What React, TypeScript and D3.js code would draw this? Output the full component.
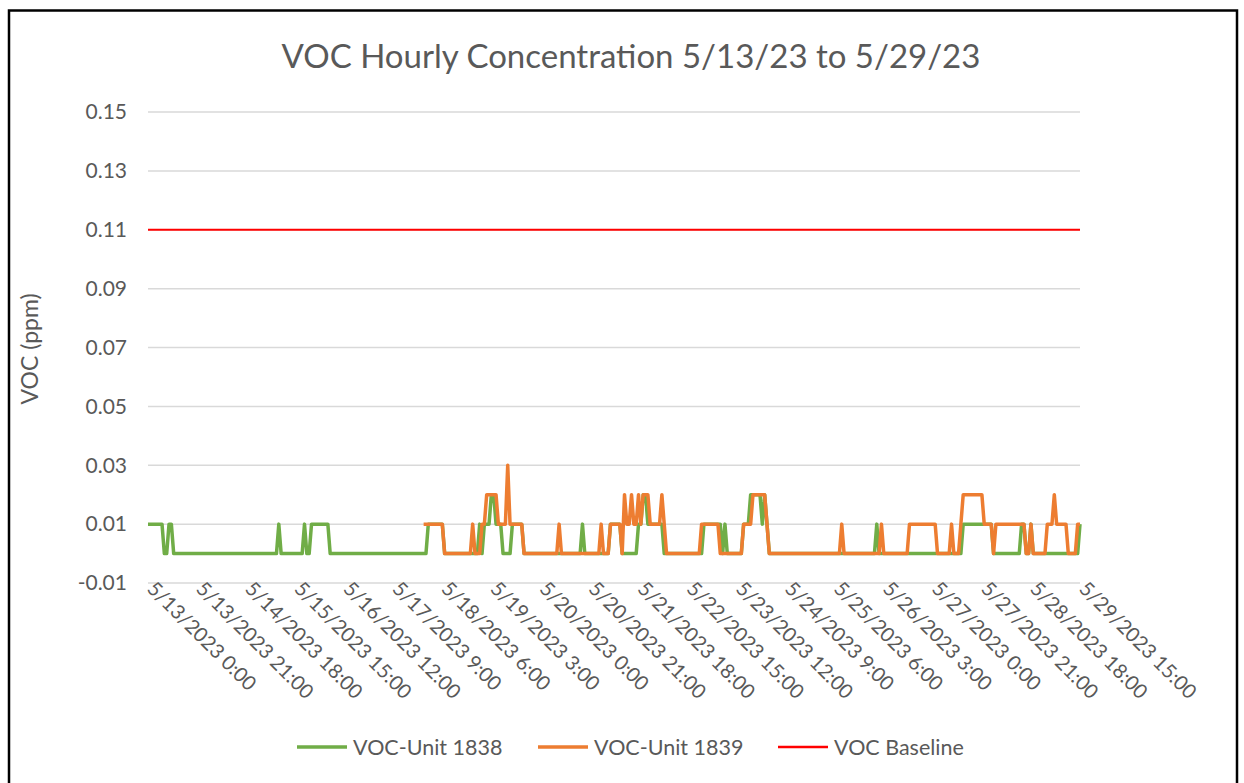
import React, { useRef, useEffect } from "react";
import * as d3 from "d3";

// hourly readings, stored as runs of [value, hours]
const unit1838Runs: [number, number][] = [
  [0.01, 7], [0, 2], [0.01, 2], [0, 45], [0.01, 1], [0, 10], [0.01, 1], [0, 2],
  [0.01, 8], [0, 42], [0.01, 7], [0, 15], [0.01, 1], [0, 1], [0.01, 3], [0.02, 2],
  [0.01, 3], [0, 4], [0.01, 5], [0, 25], [0.01, 1], [0, 11], [0.01, 5], [0, 7],
  [0.01, 2], [0.02, 2], [0.01, 7], [0, 17], [0.01, 8], [0, 1], [0.01, 1], [0, 7],
  [0.01, 3], [0.02, 5], [0.01, 1], [0.02, 1], [0.01, 1], [0, 46], [0.01, 1], [0, 36],
  [0.01, 13], [0, 12], [0.01, 2], [0, 2], [0.01, 1], [0, 20], [0.01, 1],
];

const unit1839Runs: [number | null, number][] = [
  [null, 118], [0.01, 9], [0, 12], [0.01, 1], [0, 3], [0.01, 2], [0.02, 5], [0.01, 4],
  [0.03, 1], [0.01, 6], [0, 15], [0.01, 1], [0, 17], [0.01, 1], [0, 3], [0.01, 5],
  [0, 1], [0.02, 1], [0.01, 2], [0.02, 1], [0.01, 2], [0.02, 1], [0.01, 1], [0.02, 3],
  [0.01, 5], [0.02, 1], [0.01, 1], [0, 15], [0.01, 8], [0, 10], [0.01, 4], [0.02, 6],
  [0.01, 1], [0, 31], [0.01, 1], [0, 16], [0.01, 1], [0, 11], [0.01, 12], [0, 6],
  [0.01, 1], [0, 3], [0.01, 1], [0.02, 9], [0.01, 4], [0, 1], [0.01, 13], [0, 2],
  [0.01, 1], [0, 6], [0.01, 3], [0.02, 1], [0.01, 5], [0, 4], [0.01, 2],
];

const baselineValue = 0.11;

const xTickLabels = [
  "5/13/2023 0:00", "5/13/2023 21:00", "5/14/2023 18:00", "5/15/2023 15:00",
  "5/16/2023 12:00", "5/17/2023 9:00", "5/18/2023 6:00", "5/19/2023 3:00",
  "5/20/2023 0:00", "5/20/2023 21:00", "5/21/2023 18:00", "5/22/2023 15:00",
  "5/23/2023 12:00", "5/24/2023 9:00", "5/25/2023 6:00", "5/26/2023 3:00",
  "5/27/2023 0:00", "5/27/2023 21:00", "5/28/2023 18:00", "5/29/2023 15:00",
];

const yTicks = [-0.01, 0.01, 0.03, 0.05, 0.07, 0.09, 0.11, 0.13, 0.15];

const seriesNames = ["VOC-Unit 1838", "VOC-Unit 1839", "VOC Baseline"];
const seriesColors = ["#70AD47", "#ED7D31", "#FF0000"];

const expand = (runs: [number | null, number][]) =>
  runs.flatMap(([v, n]) => Array(n).fill(v));

const fmtHour = d3.timeFormat("%-m/%-d/%Y %-H:%M");
const categories = d3
  .timeHours(new Date(2023, 4, 13, 0), new Date(2023, 4, 29, 16))
  .map(fmtHour);

const FONT = "Lato, 'Open Sans', sans-serif";
const TEXT = "#595959";

const App = () => {
  const svgRef = useRef<SVGSVGElement>(null);

  useEffect(() => {
    document.body.style.margin = "0";
    document.body.style.overflow = "hidden";

    const w = 1244;
    const h = 783;
    const plot = { left: 148, right: 1080, top: 112, bottom: 583 };

    const svg = d3
      .select(svgRef.current)
      .attr("width", w)
      .attr("height", h)
      .style("background", "#fff")
      .style("display", "block");

    svg.selectAll("*").remove();

    // outer frame (bottom edge runs off the page)
    svg
      .append("rect")
      .attr("x", 9)
      .attr("y", 10.5)
      .attr("width", 1228)
      .attr("height", 790)
      .attr("fill", "none")
      .attr("stroke", "#000")
      .attr("stroke-width", 2.5);

    const x = d3.scalePoint<string>().domain(categories).range([plot.left, plot.right]);
    const y = d3.scaleLinear().domain([-0.01, 0.15]).range([plot.bottom, plot.top]);

    // gridlines
    svg
      .append("g")
      .selectAll("line")
      .data(yTicks)
      .enter()
      .append("line")
      .attr("x1", plot.left)
      .attr("x2", plot.right)
      .attr("y1", (d) => y(d))
      .attr("y2", (d) => y(d))
      .attr("stroke", "#d9d9d9")
      .attr("stroke-width", 1.5);

    // y tick labels
    svg
      .append("g")
      .selectAll("text")
      .data(yTicks)
      .enter()
      .append("text")
      .attr("x", 127)
      .attr("y", (d) => y(d))
      .attr("dy", "0.35em")
      .attr("text-anchor", "end")
      .attr("font-family", FONT)
      .attr("font-size", 21)
      .attr("fill", TEXT)
      .text((d) => d3.format(".2f")(d).replace("\u2212", "-"));

    // x tick labels, rotated
    svg
      .append("g")
      .selectAll("text")
      .data(xTickLabels)
      .enter()
      .append("text")
      .attr("transform", (d) => `translate(${(x(d) as number) - 2},590) rotate(45)`)
      .attr("text-anchor", "start")
      .attr("font-family", FONT)
      .attr("font-size", 20)
      .attr("fill", TEXT)
      .text((d) => d);

    const line = d3
      .line<number | null>()
      .defined((d) => d !== null)
      .x((_, i) => x(categories[i]) as number)
      .y((d) => y(d as number));

    const s1838 = expand(unit1838Runs);
    const s1839 = expand(unit1839Runs);
    const base = categories.map(() => baselineValue);

    [s1838, s1839].forEach((s, k) => {
      svg
        .append("path")
        .datum(s)
        .attr("d", line)
        .attr("fill", "none")
        .attr("stroke", seriesColors[k])
        .attr("stroke-width", 3.5)
        .attr("stroke-linejoin", "round");
    });

    svg
      .append("path")
      .datum(base)
      .attr("d", line)
      .attr("fill", "none")
      .attr("stroke", seriesColors[2])
      .attr("stroke-width", 2);

    // title
    svg
      .append("text")
      .attr("x", 631)
      .attr("y", 68)
      .attr("text-anchor", "middle")
      .attr("font-family", FONT)
      .attr("font-size", 33)
      .attr("fill", TEXT)
      .text("VOC Hourly Concentration 5/13/23 to 5/29/23");

    // y axis title
    svg
      .append("text")
      .attr("transform", "translate(38,349) rotate(-90)")
      .attr("text-anchor", "middle")
      .attr("font-family", FONT)
      .attr("font-size", 23)
      .attr("fill", TEXT)
      .text("VOC (ppm)");

    // legend
    const legendX = [297, 538, 778];
    const lg = svg.append("g");
    seriesNames.forEach((name, k) => {
      lg.append("line")
        .attr("x1", legendX[k])
        .attr("x2", legendX[k] + 50)
        .attr("y1", 747)
        .attr("y2", 747)
        .attr("stroke", seriesColors[k])
        .attr("stroke-width", k === 2 ? 2.5 : 3.5);
      lg.append("text")
        .attr("x", legendX[k] + 56)
        .attr("y", 747)
        .attr("dy", "0.35em")
        .attr("font-family", FONT)
        .attr("font-size", 21.5)
        .attr("fill", TEXT)
        .text(name);
    });
  }, []);

  return <svg ref={svgRef}></svg>;
};

export default App;
